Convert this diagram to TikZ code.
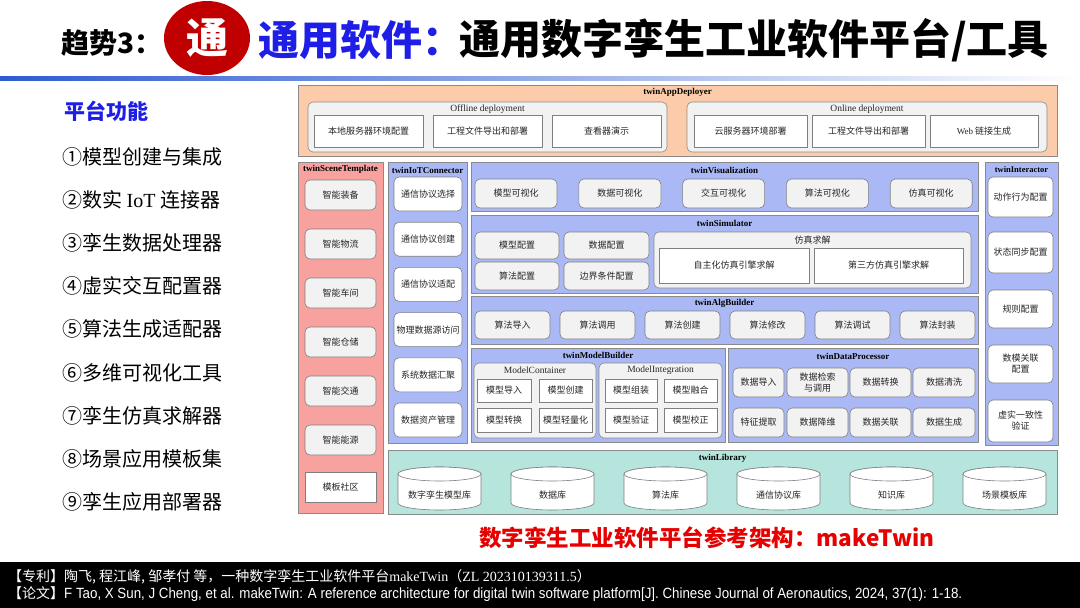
\documentclass[tikz,border=0pt]{standalone}
\usepackage{fontspec}
\setmainfont{Noto Sans CJK SC}
\newfontfamily\latfont{Liberation Serif}
\newfontfamily\footfont[FakeStretch=0.9]{Liberation Sans}
\usetikzlibrary{positioning,shapes.geometric}
\definecolor{deployOrange}{HTML}{FBCBAA}
\definecolor{scenePink}{HTML}{F7A29F}
\definecolor{moduleBlue}{HTML}{AAB9F5}
\definecolor{libraryTeal}{HTML}{B5E5DC}
\definecolor{frameGray}{HTML}{8A8A8A}
\definecolor{itemFill}{HTML}{F2F2F2}
\definecolor{itemGray}{HTML}{7F7F7F}
\definecolor{inkGray}{HTML}{262626}
\definecolor{titleBlue}{HTML}{1E1EE6}
\definecolor{badgeRed}{HTML}{C00000}
\definecolor{captionRed}{HTML}{E60000}
\definecolor{ruleBlue}{HTML}{2E5BD0}
\newcommand{\itemFont}{\fontsize{9}{11}\selectfont}
\tikzset{
  panel/.style={rectangle, draw=frameGray, line width=0.8pt, inner sep=0pt, outer sep=0pt},
  group/.style={rectangle, rounded corners=5pt, draw=frameGray, fill=itemFill, line width=0.6pt, inner sep=0pt, outer sep=0pt},
  item/.style={rectangle, rounded corners=5pt, draw=itemGray, fill=itemFill, line width=0.6pt, text=inkGray, font=\itemFont, align=center, inner sep=1pt, outer sep=0pt},
  whiteItem/.style={item, fill=white},
  plain/.style={rectangle, draw=itemGray, fill=white, line width=0.6pt, text=inkGray, font=\itemFont, align=center, inner sep=1pt, outer sep=0pt},
  panelTitle/.style={font=\latfont\bfseries\fontsize{9}{10}\selectfont, inner sep=0pt},
  groupTitle/.style={font=\latfont\fontsize{9.5}{10}\selectfont, text=inkGray, inner sep=0pt},
  disk/.style={draw=itemGray, fill=white, line width=0.6pt},
  diskLabel/.style={font=\itemFont, text=inkGray, inner sep=0pt},
  listItem/.style={font=\fontsize{20}{22}\selectfont, anchor=west, inner sep=0pt},
  footLine/.style={font=\fontsize{14}{15}\selectfont, text=white, anchor=west, inner sep=0pt},
  headText/.style={font=\bfseries\fontsize{41}{43}\selectfont, anchor=west, inner sep=0pt}
}
% box from corner (#3,#4) to corner (#5,#6)
\newcommand{\cellBox}[7]{%
  \pgfmathsetmacro\cellW{#5-#3}%
  \pgfmathsetmacro\cellH{#6-#4}%
  \node[#1, minimum width=\cellW pt, minimum height=\cellH pt] (#2) at ({(#3+#5)/2},{(#4+#6)/2}) {#7};%
}
% library cylinder, left x #2, top y #3
\newcommand{\libDisk}[4]{%
  \pgfmathsetmacro\diskR{#2+83}%
  \pgfmathsetmacro\diskC{#2+41.5}%
  \filldraw[disk] (#2,#3+7) -- (#2,#3+36) arc[start angle=180, end angle=360, x radius=41.5pt, y radius=7pt]
    -- (\diskR,#3+7) arc[start angle=0, end angle=180, x radius=41.5pt, y radius=7pt] -- cycle;
  \draw[disk] (\diskC,#3+7) ellipse[x radius=41.5pt, y radius=7pt];
  \node[diskLabel] (#1) at (\diskC,#3+28) {#4};
}

\begin{document}
\begin{tikzpicture}[x=1pt,y=-1pt]
\useasboundingbox (0,0) rectangle (1080,608);
\fill[white] (0,0) rectangle (1080,608);

% --------------------------------------------------------------------------
% Heading
% --------------------------------------------------------------------------
\node[font=\bfseries\fontsize{28}{30}\selectfont, anchor=west, inner sep=0pt] (trend) at (61,43) {趋势3：};
\node[ellipse, fill=badgeRed, minimum width=86pt, minimum height=74pt, inner sep=0pt] (badge) at (207,38) {};
\node[font=\bfseries\fontsize{42}{44}\selectfont, text=white, inner sep=0pt] (badgeChar) at (badge.center) {通};
\node[headText, text=titleBlue] (headBlue) at (258,40) {通用软件：};
\node[headText] (headBlack) at (459,40) {通用数字孪生工业软件平台/工具};
\shade[left color=ruleBlue, right color=white] (0,76) rectangle (1080,80);

% --------------------------------------------------------------------------
% Function list
% --------------------------------------------------------------------------
\node[font=\bfseries\fontsize{21}{23}\selectfont, text=titleBlue, anchor=west, inner sep=0pt] (listHead) at (64,111) {平台功能};
\foreach \txt [count=\i from 0] in {①模型创建与集成, ②数实 {\latfont IoT} 连接器, ③孪生数据处理器, ④虚实交互配置器, ⑤算法生成适配器, ⑥多维可视化工具, ⑦孪生仿真求解器, ⑧场景应用模板集, ⑨孪生应用部署器} {
  \node[listItem] (fn\i) at (62,{157+43.1*\i}) {\txt};
}

% --------------------------------------------------------------------------
% twinAppDeployer
% --------------------------------------------------------------------------
\cellBox{panel, fill=deployOrange}{appDeployer}{298}{85}{1057}{156}{}
\node[panelTitle] (appTitle) at (677.5,92.5) {twinAppDeployer};
\cellBox{group}{offline}{308}{102}{667}{152}{}
\node[groupTitle] (offlineTitle) at (487.5,109) {Offline deployment};
\cellBox{plain}{offA}{314}{115}{423}{147}{本地服务器环境配置}
\cellBox{plain}{offB}{433}{115}{542}{147}{工程文件导出和部署}
\cellBox{plain}{offC}{552}{115}{661}{147}{查看器演示}
\cellBox{group}{online}{687}{102}{1047}{152}{}
\node[groupTitle] (onlineTitle) at (867,109) {Online deployment};
\cellBox{plain}{onA}{694}{115}{807}{147}{云服务器环境部署}
\cellBox{plain}{onB}{812}{115}{925}{147}{工程文件导出和部署}
\cellBox{plain}{onC}{930}{115}{1038}{147}{{\latfont Web} 链接生成}

% --------------------------------------------------------------------------
% twinSceneTemplate
% --------------------------------------------------------------------------
\cellBox{panel, fill=scenePink}{sceneTemplate}{298}{162}{383}{513}{}
\node[panelTitle] (sceneTitle) at (340.5,169.5) {twinSceneTemplate};
\foreach \txt [count=\i from 0] in {智能装备, 智能物流, 智能车间, 智能仓储, 智能交通, 智能能源} {
  \pgfmathsetmacro\sy{180+49*\i}
  \cellBox{item}{scene\i}{305}{\sy}{376}{\sy+30}{\txt}
}
\cellBox{plain}{sceneCommunity}{305}{472}{376}{502}{模板社区}

% --------------------------------------------------------------------------
% twinIoTConnector
% --------------------------------------------------------------------------
\cellBox{panel, fill=moduleBlue}{iotConnector}{388}{162}{467}{443}{}
\node[panelTitle] (iotTitle) at (427.5,170) {twinIoTConnector};
\foreach \txt [count=\i from 0] in {通信协议选择, 通信协议创建, 通信协议适配, 物理数据源访问, 系统数据汇聚, 数据资产管理} {
  \pgfmathsetmacro\iy{177+45.2*\i}
  \cellBox{whiteItem}{iot\i}{394}{\iy}{462}{\iy+34}{\txt}
}

% --------------------------------------------------------------------------
% twinVisualization
% --------------------------------------------------------------------------
\cellBox{panel, fill=moduleBlue}{visualization}{471}{162}{978}{211}{}
\node[panelTitle] (visTitle) at (724.5,170) {twinVisualization};
\foreach \txt [count=\i from 0] in {模型可视化, 数据可视化, 交互可视化, 算法可视化, 仿真可视化} {
  \pgfmathsetmacro\vx{475+103.8*\i}
  \cellBox{item}{vis\i}{\vx}{179}{\vx+82}{208}{\txt}
}

% --------------------------------------------------------------------------
% twinSimulator
% --------------------------------------------------------------------------
\cellBox{panel, fill=moduleBlue}{simulator}{471}{215}{978}{293}{}
\node[panelTitle] (simTitle) at (724.5,223) {twinSimulator};
\cellBox{item}{simModel}{475}{232}{559}{259}{模型配置}
\cellBox{item}{simData}{564}{232}{649}{259}{数据配置}
\cellBox{item}{simAlg}{475}{262}{559}{290}{算法配置}
\cellBox{item}{simBound}{564}{262}{649}{290}{边界条件配置}
\cellBox{group}{simSolve}{654}{232}{971}{288}{}
\node[groupTitle, font=\itemFont] (solveTitle) at (812.5,240) {仿真求解};
\cellBox{plain}{solveOwn}{659}{248}{809}{283}{自主化仿真引擎求解}
\cellBox{plain}{solveThird}{814}{248}{963}{283}{第三方仿真引擎求解}

% --------------------------------------------------------------------------
% twinAlgBuilder
% --------------------------------------------------------------------------
\cellBox{panel, fill=moduleBlue}{algBuilder}{471}{296}{978}{344}{}
\node[panelTitle] (algTitle) at (724.5,303) {twinAlgBuilder};
\foreach \txt [count=\i from 0] in {算法导入, 算法调用, 算法创建, 算法修改, 算法调试, 算法封装} {
  \pgfmathsetmacro\ax{475+85*\i}
  \cellBox{item}{alg\i}{\ax}{311}{\ax+75}{339}{\txt}
}

% --------------------------------------------------------------------------
% twinModelBuilder
% --------------------------------------------------------------------------
\cellBox{panel, fill=moduleBlue}{modelBuilder}{471}{348}{725}{442}{}
\node[panelTitle] (mbTitle) at (598,355.5) {twinModelBuilder};
\cellBox{group}{container}{474}{363}{596}{438}{}
\node[groupTitle] (containerTitle) at (535,370.5) {ModelContainer};
\cellBox{plain}{mcImport}{477}{379}{531}{402}{模型导入}
\cellBox{plain}{mcCreate}{539}{379}{592}{402}{模型创建}
\cellBox{plain}{mcConvert}{477}{408}{531}{432}{模型转换}
\cellBox{plain}{mcLight}{539}{408}{592}{432}{模型轻量化}
\cellBox{group}{integration}{599}{363}{722}{438}{}
\node[groupTitle] (integrationTitle) at (660.5,370.5) {ModelIntegration};
\cellBox{plain}{miAssemble}{605}{379}{657}{402}{模型组装}
\cellBox{plain}{miFuse}{664}{379}{717}{402}{模型融合}
\cellBox{plain}{miVerify}{605}{408}{657}{432}{模型验证}
\cellBox{plain}{miCalib}{664}{408}{717}{432}{模型校正}

% --------------------------------------------------------------------------
% twinDataProcessor
% --------------------------------------------------------------------------
\cellBox{panel, fill=moduleBlue}{dataProcessor}{728}{348}{978}{442}{}
\node[panelTitle] (dpTitle) at (853,356) {twinDataProcessor};
\cellBox{item}{dpImport}{733}{368}{784}{397}{数据导入}
\cellBox{item}{dpQuery}{787}{368}{848}{397}{数据检索\\与调用}
\cellBox{item}{dpConvert}{850}{368}{911}{397}{数据转换}
\cellBox{item}{dpClean}{913}{368}{975}{397}{数据清洗}
\cellBox{item}{dpFeature}{733}{408}{784}{437}{特征提取}
\cellBox{item}{dpReduce}{787}{408}{848}{437}{数据降维}
\cellBox{item}{dpRelate}{850}{408}{911}{437}{数据关联}
\cellBox{item}{dpGenerate}{913}{408}{975}{437}{数据生成}

% --------------------------------------------------------------------------
% twinInteractor
% --------------------------------------------------------------------------
\cellBox{panel, fill=moduleBlue}{interactor}{985}{162}{1058}{445}{}
\node[panelTitle, font=\latfont\bfseries\fontsize{8.5}{10}\selectfont] (itTitle) at (1021.5,169.5) {twinInteractor};
\cellBox{whiteItem}{itAction}{988}{177}{1053}{217}{动作行为配置}
\cellBox{whiteItem}{itSync}{988}{232}{1053}{273}{状态同步配置}
\cellBox{whiteItem}{itRule}{988}{290}{1053}{328}{规则配置}
\cellBox{whiteItem}{itLink}{988}{345}{1053}{383}{数模关联\\配置}
\cellBox{whiteItem}{itCheck}{988}{400}{1053}{442}{虚实一致性\\验证}

% --------------------------------------------------------------------------
% twinLibrary
% --------------------------------------------------------------------------
\cellBox{panel, fill=libraryTeal}{library}{388}{450}{1057}{514}{}
\node[panelTitle] (libTitle) at (722.5,458) {twinLibrary};
\foreach \txt [count=\i from 0] in {数字孪生模型库, 数据库, 算法库, 通信协议库, 知识库, 场景模板库} {
  \pgfmathsetmacro\lx{398+113*\i}
  \libDisk{lib\i}{\lx}{467}{\txt}
}

% --------------------------------------------------------------------------
% Caption and references
% --------------------------------------------------------------------------
\node[font=\bfseries\fontsize{22.5}{24}\selectfont, text=captionRed, inner sep=0pt] (caption) at (707,538) {数字孪生工业软件平台参考架构：makeTwin};
\fill[black] (0,562) rectangle (1080,608);
\node[footLine] (refPatent) at (8,577) {【专利】陶飞, 程江峰, 邹孝付 等，一种数字孪生工业软件平台{\latfont makeTwin}（{\latfont ZL 202310139311.5}）};
\node[footLine] (refPaper) at (8,594) {【论文】{\footfont\fontsize{14.8}{16}\selectfont F Tao, X Sun, J Cheng, et al. makeTwin: A reference architecture for digital twin software platform[J]. Chinese Journal of Aeronautics, 2024, 37(1): 1-18.}};

\end{tikzpicture}
\end{document}
